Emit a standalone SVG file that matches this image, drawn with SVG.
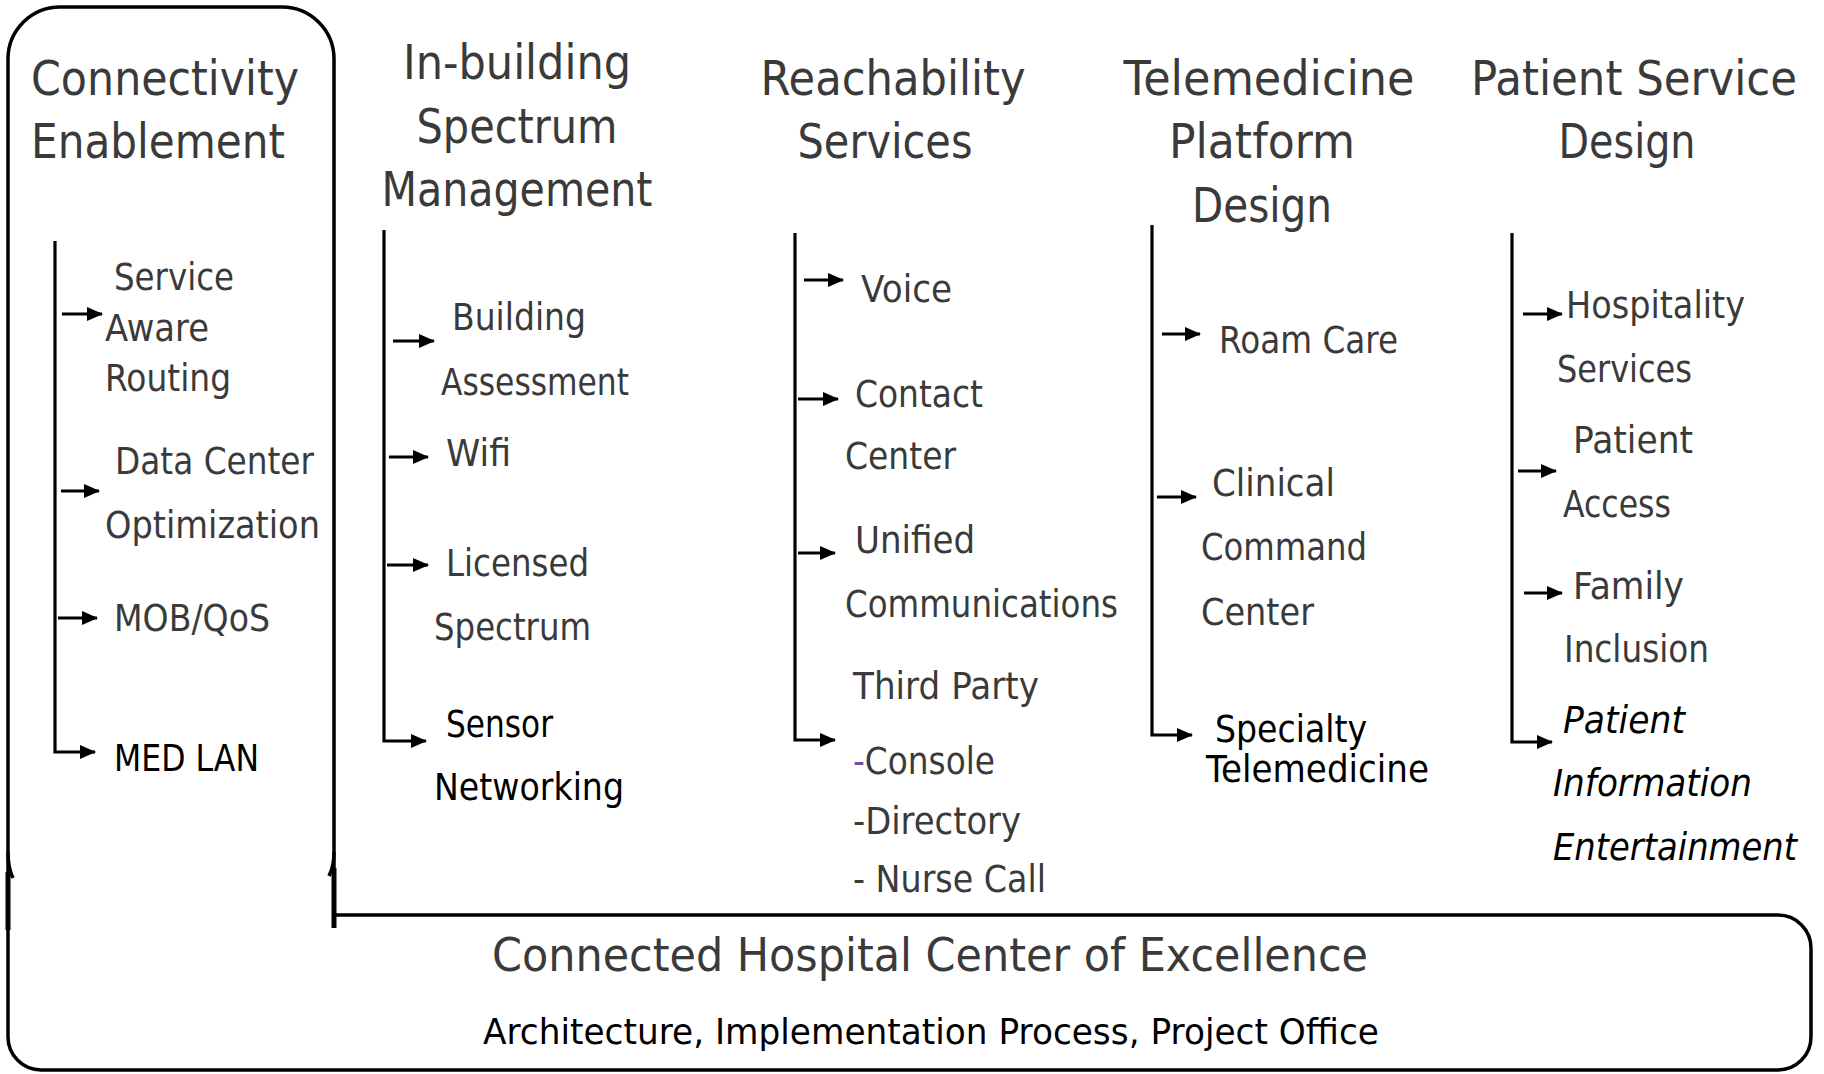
<svg xmlns="http://www.w3.org/2000/svg" width="1824" height="1074" viewBox="0 0 1824 1074">
<style>
text{font-family:"DejaVu Sans","Liberation Sans",sans-serif;fill:#3a3a3a}
.h{font-size:48px}
.i{font-size:37px}
.k{fill:#000}
.it{font-style:italic}
.frame{fill:none;stroke:#000;stroke-width:3.5;stroke-linejoin:round}
.c{fill:none;stroke:#000;stroke-width:3.2}
</style>
<defs>
<marker id="ah" markerUnits="userSpaceOnUse" markerWidth="16" markerHeight="14" refX="15" refY="7" orient="auto">
<path d="M0,0 L16,7 L0,14 Z" fill="#000"/>
</marker>
</defs>
<rect width="1824" height="1074" fill="#fff"/>

<g id="frame">
<path class="frame" d="M8,59 A52,52 0 0 1 60,7 H282 A52,52 0 0 1 334,59 V915 H1778 A33,33 0 0 1 1811,948 V1037 A33,33 0 0 1 1778,1070 H41 A33,33 0 0 1 8,1037 Z"/>
<path class="frame" d="M8,852 Q8,868 13,878"/>
<path class="frame" d="M334,852 Q334,866 329,876"/>
<path d="M334,868 V928" stroke="#000" stroke-width="5"/>
<path d="M8,872 V930" stroke="#000" stroke-width="5"/>
</g>

<g id="connectors">
<path class="c" d="M55,241 V752 H95" marker-end="url(#ah)"/>
<line class="c" x1="62" y1="314" x2="102" y2="314" marker-end="url(#ah)"/>
<line class="c" x1="61" y1="491" x2="99" y2="491" marker-end="url(#ah)"/>
<line class="c" x1="58" y1="618" x2="97" y2="618" marker-end="url(#ah)"/>

<path class="c" d="M384,230 V741 H426" marker-end="url(#ah)"/>
<line class="c" x1="393" y1="341" x2="434" y2="341" marker-end="url(#ah)"/>
<line class="c" x1="389" y1="457" x2="428" y2="457" marker-end="url(#ah)"/>
<line class="c" x1="387" y1="565" x2="428" y2="565" marker-end="url(#ah)"/>

<path class="c" d="M795,233 V740 H835" marker-end="url(#ah)"/>
<line class="c" x1="804" y1="280" x2="843" y2="280" marker-end="url(#ah)"/>
<line class="c" x1="798" y1="399" x2="838" y2="399" marker-end="url(#ah)"/>
<line class="c" x1="798" y1="553" x2="835" y2="553" marker-end="url(#ah)"/>

<path class="c" d="M1152,225 V735 H1192" marker-end="url(#ah)"/>
<line class="c" x1="1162" y1="334" x2="1200" y2="334" marker-end="url(#ah)"/>
<line class="c" x1="1157" y1="497" x2="1196" y2="497" marker-end="url(#ah)"/>

<path class="c" d="M1512,233 V742 H1552" marker-end="url(#ah)"/>
<line class="c" x1="1523" y1="314" x2="1562" y2="314" marker-end="url(#ah)"/>
<line class="c" x1="1518" y1="471" x2="1556" y2="471" marker-end="url(#ah)"/>
<line class="c" x1="1524" y1="593" x2="1562" y2="593" marker-end="url(#ah)"/>
</g>

<g id="connectivity">
<text class="h" x="31" y="95" textLength="268" lengthAdjust="spacingAndGlyphs">Connectivity</text>
<text class="h" x="31" y="158" textLength="254" lengthAdjust="spacingAndGlyphs">Enablement</text>
<text class="i" x="114" y="290" textLength="120" lengthAdjust="spacingAndGlyphs">Service</text>
<text class="i" x="105" y="341" textLength="104" lengthAdjust="spacingAndGlyphs">Aware</text>
<text class="i" x="105" y="391" textLength="126" lengthAdjust="spacingAndGlyphs">Routing</text>
<text class="i" x="115" y="474" textLength="199" lengthAdjust="spacingAndGlyphs">Data Center</text>
<text class="i" x="105" y="538" textLength="215" lengthAdjust="spacingAndGlyphs">Optimization</text>
<text class="i" x="114" y="631" textLength="156" lengthAdjust="spacingAndGlyphs">MOB/QoS</text>
<text class="i k" x="114" y="771" textLength="145" lengthAdjust="spacingAndGlyphs">MED LAN</text>
</g>

<g id="in-building">
<text class="h" x="517" y="79" text-anchor="middle" textLength="228" lengthAdjust="spacingAndGlyphs">In-building</text>
<text class="h" x="517" y="143" text-anchor="middle" textLength="201" lengthAdjust="spacingAndGlyphs">Spectrum</text>
<text class="h" x="517" y="206" text-anchor="middle" textLength="271" lengthAdjust="spacingAndGlyphs">Management</text>
<text class="i" x="452" y="330" textLength="134" lengthAdjust="spacingAndGlyphs">Building</text>
<text class="i" x="441" y="395" textLength="188" lengthAdjust="spacingAndGlyphs">Assessment</text>
<text class="i" x="446" y="466" textLength="65" lengthAdjust="spacingAndGlyphs">Wifi</text>
<text class="i" x="446" y="576" textLength="143" lengthAdjust="spacingAndGlyphs">Licensed</text>
<text class="i" x="434" y="640" textLength="157" lengthAdjust="spacingAndGlyphs">Spectrum</text>
<text class="i k" x="446" y="737" textLength="107" lengthAdjust="spacingAndGlyphs">Sensor</text>
<text class="i k" x="434" y="800" textLength="190" lengthAdjust="spacingAndGlyphs">Networking</text>
</g>

<g id="reachability">
<text class="h" x="893" y="95" text-anchor="middle" textLength="265" lengthAdjust="spacingAndGlyphs">Reachability</text>
<text class="h" x="885" y="158" text-anchor="middle" textLength="175" lengthAdjust="spacingAndGlyphs">Services</text>
<text class="i" x="861" y="302" textLength="91" lengthAdjust="spacingAndGlyphs">Voice</text>
<text class="i" x="855" y="407" textLength="128" lengthAdjust="spacingAndGlyphs">Contact</text>
<text class="i" x="845" y="469" textLength="111" lengthAdjust="spacingAndGlyphs">Center</text>
<text class="i" x="855" y="553" textLength="120" lengthAdjust="spacingAndGlyphs">Unified</text>
<text class="i" x="845" y="617" textLength="273" lengthAdjust="spacingAndGlyphs">Communications</text>
<text class="i" x="853" y="699" textLength="186" lengthAdjust="spacingAndGlyphs">Third Party</text>
<text class="i" x="853" y="774" textLength="142" lengthAdjust="spacingAndGlyphs"><tspan fill="#6a4fa8">-</tspan>Console</text>
<text class="i" x="853" y="834" textLength="168" lengthAdjust="spacingAndGlyphs">-Directory</text>
<text class="i" x="853" y="892" textLength="193" lengthAdjust="spacingAndGlyphs">- Nurse Call</text>
</g>

<g id="telemedicine">
<text class="h" x="1269" y="95" text-anchor="middle" textLength="291" lengthAdjust="spacingAndGlyphs">Telemedicine</text>
<text class="h" x="1262" y="158" text-anchor="middle" textLength="186" lengthAdjust="spacingAndGlyphs">Platform</text>
<text class="h" x="1262" y="222" text-anchor="middle" textLength="140" lengthAdjust="spacingAndGlyphs">Design</text>
<text class="i" x="1219" y="353" textLength="179" lengthAdjust="spacingAndGlyphs">Roam Care</text>
<text class="i" x="1212" y="496" textLength="123" lengthAdjust="spacingAndGlyphs">Clinical</text>
<text class="i" x="1201" y="560" textLength="166" lengthAdjust="spacingAndGlyphs">Command</text>
<text class="i" x="1201" y="625" textLength="113" lengthAdjust="spacingAndGlyphs">Center</text>
<text class="i k" x="1215" y="742" textLength="152" lengthAdjust="spacingAndGlyphs">Specialty</text>
<text class="i k" x="1206" y="782" textLength="223" lengthAdjust="spacingAndGlyphs">Telemedicine</text>
</g>

<g id="patient-service">
<text class="h" x="1634" y="95" text-anchor="middle" textLength="326" lengthAdjust="spacingAndGlyphs">Patient Service</text>
<text class="h" x="1627" y="158" text-anchor="middle" textLength="137" lengthAdjust="spacingAndGlyphs">Design</text>
<text class="i" x="1566" y="318" textLength="179" lengthAdjust="spacingAndGlyphs">Hospitality</text>
<text class="i" x="1557" y="382" textLength="135" lengthAdjust="spacingAndGlyphs">Services</text>
<text class="i" x="1573" y="453" textLength="120" lengthAdjust="spacingAndGlyphs">Patient</text>
<text class="i" x="1563" y="517" textLength="108" lengthAdjust="spacingAndGlyphs">Access</text>
<text class="i" x="1573" y="599" textLength="111" lengthAdjust="spacingAndGlyphs">Family</text>
<text class="i" x="1564" y="662" textLength="145" lengthAdjust="spacingAndGlyphs">Inclusion</text>
<text class="i k it" x="1563" y="733" textLength="122" lengthAdjust="spacingAndGlyphs">Patient</text>
<text class="i k it" x="1553" y="796" textLength="199" lengthAdjust="spacingAndGlyphs">Information</text>
<text class="i k it" x="1553" y="860" textLength="244" lengthAdjust="spacingAndGlyphs">Entertainment</text>
</g>

<g id="center-of-excellence">
<text x="492" y="971" font-size="46" textLength="876" lengthAdjust="spacingAndGlyphs">Connected Hospital Center of Excellence</text>
<text class="k" x="483" y="1044" font-size="36" textLength="896" lengthAdjust="spacingAndGlyphs">Architecture, Implementation Process, Project Office</text>
</g>
</svg>
